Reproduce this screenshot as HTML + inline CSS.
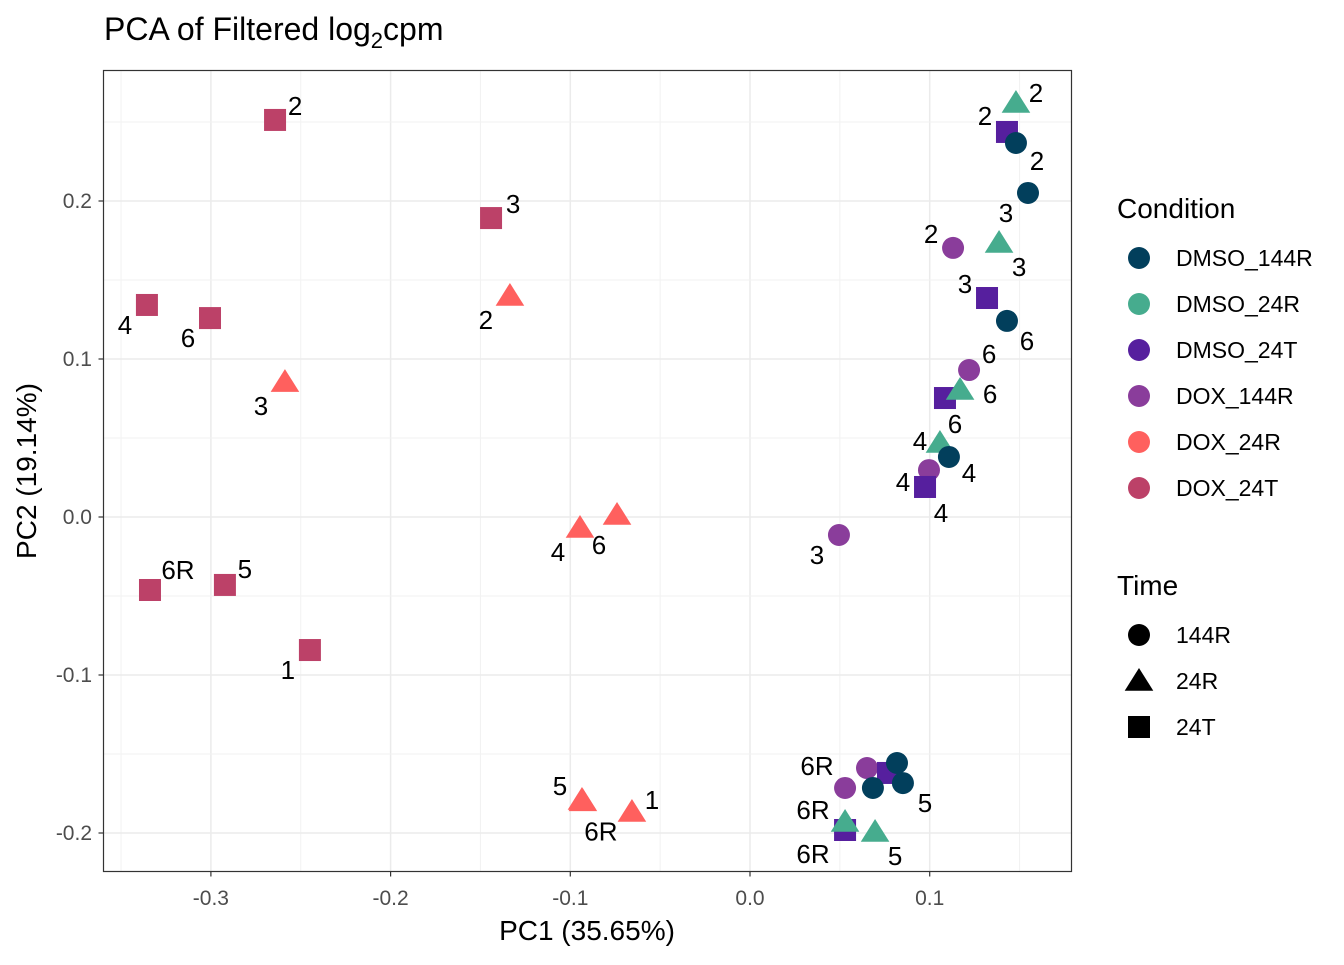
<!DOCTYPE html>
<html><head><meta charset="utf-8"><style>
html,body{margin:0;padding:0;background:#fff;}
svg text{font-family:"Liberation Sans",Arial,sans-serif;}
</style></head><body>
<svg id="chart" width="1344" height="960" xmlns="http://www.w3.org/2000/svg">
<text x="104" y="40" font-size="32" fill="#000">PCA of Filtered log<tspan font-size="22" dy="8">2</tspan><tspan dy="-8">cpm</tspan></text>
<g id="grid"></g>
<g id="points"></g>
<rect x="103.5" y="70.5" width="968" height="801" fill="none" stroke="#333" stroke-width="1.2"/>
<g id="axes"></g>
<text x="587" y="940" font-size="28" text-anchor="middle">PC1 (35.65%)</text>
<text transform="translate(36,471) rotate(-90)" font-size="28" text-anchor="middle">PC2 (19.14%)</text>
<g id="legend"></g>
</svg>
<script>
const conditions = ["DMSO_144R","DMSO_24R","DMSO_24T","DOX_144R","DOX_24R","DOX_24T"];
const times = ["144R","24R","24T"];
const xTicks = [-0.3,-0.2,-0.1,0.0,0.1];
const yTicks = [-0.2,-0.1,0.0,0.1,0.2];
const xTickLabels = ["-0.3","-0.2","-0.1","0.0","0.1"];
const yTickLabels = ["-0.2","-0.1","0.0","0.1","0.2"];
const pointCondition = [
 "DOX_24T","DOX_24T","DOX_24T","DOX_24T","DOX_24T","DOX_24T","DOX_24T",
 "DOX_24R","DOX_24R","DOX_24R","DOX_24R","DOX_24R","DOX_24R","DOX_24R",
 "DOX_144R","DOX_144R","DOX_144R","DOX_144R","DOX_144R","DOX_144R",
 "DMSO_24T","DMSO_24T","DMSO_24T","DMSO_24T","DMSO_24T","DMSO_24T",
 "DMSO_24R","DMSO_24R","DMSO_24R","DMSO_24R","DMSO_24R","DMSO_24R",
 "DMSO_144R","DMSO_144R","DMSO_144R","DMSO_144R","DMSO_144R","DMSO_144R","DMSO_144R"];
const pointTime = [
 "24T","24T","24T","24T","24T","24T","24T",
 "24R","24R","24R","24R","24R","24R","24R",
 "144R","144R","144R","144R","144R","144R",
 "24T","24T","24T","24T","24T","24T",
 "24R","24R","24R","24R","24R","24R",
 "144R","144R","144R","144R","144R","144R","144R"];
const pc1 = [
 -0.2643,-0.1441,-0.3356,-0.3005,-0.3339,-0.2922,-0.2449,
 -0.1336,-0.2588,-0.0946,-0.0740,-0.0935,-0.0657,-0.0930,
 0.1130,0.1219,0.0996,0.0495,0.0651,0.0529,
 0.1430,0.1319,0.1085,0.0974,0.0768,0.0529,
 0.1480,0.1386,0.1169,0.1057,0.0529,0.0696,
 0.1480,0.1547,0.1430,0.1107,0.0818,0.0684,0.0851];
const pc2 = [
 0.2513,0.1892,0.1342,0.1259,-0.0462,-0.0430,-0.0842,
 0.1399,0.0854,-0.0070,0.0013,-0.1791,-0.1867,-0.1800,
 0.1703,0.0930,0.0297,-0.0114,-0.1589,-0.1715,
 0.2437,0.1386,0.0753,0.0190,-0.1620,-0.1981,
 0.2620,0.1734,0.0804,0.0468,-0.1930,-0.1994,
 0.2367,0.2051,0.1241,0.0380,-0.1557,-0.1715,-0.1684];
const pointLabels = [
 "2","3","4","6","6R","5","1",
 "2","3","4","6","5","1","6R",
 "2","6","4","3","",
 "6R",
 "2","3","6","4","","6R",
 "2","3","6","4","6R","5",
 "2","3","6","4","","","5"];
// label offsets (styling, px)
const labelDx = [20,22,-22,-22,28,20,-22, -24,-24,-22,-18,-22,20,18, -22,20,-26,-22,0,-28, -22,-22,10,16,0,-32, 20,20,30,-20,-32,20, 21,-22,20,20,0,0,22];
const labelDy = [-14,-14,20,20,-20,-16,20, 24,24,24,30,-14,-12,30, -14,-16,12,20,0,-22, -16,-14,26,26,0,24, -10,24,4,-2,-12,24, 18,20,20,16,0,0,20];
const colors = {"DMSO_144R":"#023F5C","DMSO_24R":"#46AC8E","DMSO_24T":"#561F9E","DOX_144R":"#8A3D9B","DOX_24R":"#FF605E","DOX_24T":"#BC4168"};
const NS="http://www.w3.org/2000/svg";
const X0=103.5,X1=1071.5,Y0=70.5,Y1=871.5;
function sx(v){return 750+v*1797;}
function sy(v){return 517-v*1580;}
function mk(tag,attrs,parent){const e=document.createElementNS(NS,tag);for(const k in attrs)e.setAttribute(k,attrs[k]);parent.appendChild(e);return e;}
const grid=document.getElementById('grid');
mk('rect',{x:X0,y:Y0,width:X1-X0,height:Y1-Y0,fill:'#fff'},grid);
xTicks.forEach((t,i)=>{
 const mn=mk('line',{x1:sx(t+0.05),x2:sx(t+0.05),y1:Y0,y2:Y1,stroke:'#f2f2f2','stroke-width':1},grid);
 
 
 const l=mk('line',{x1:sx(t),x2:sx(t),y1:Y0,y2:Y1,stroke:'#ebebeb','stroke-width':1.5},grid);
 
 
});
mk('line',{x1:sx(-0.35),x2:sx(-0.35),y1:Y0,y2:Y1,stroke:'#f2f2f2','stroke-width':1},grid);
yTicks.forEach((t,i)=>{
 const l=mk('line',{x1:X0,x2:X1,y1:sy(t),y2:sy(t),stroke:'#ebebeb','stroke-width':1.5},grid);
 
 
 if(t<0.2){const mn=mk('line',{x1:X0,x2:X1,y1:sy(t+0.05),y2:sy(t+0.05),stroke:'#f2f2f2','stroke-width':1},grid);
 
 }
});
mk('line',{x1:X0,x2:X1,y1:sy(0.25),y2:sy(0.25),stroke:'#f2f2f2'},grid);
const axes=document.getElementById('axes');
xTicks.forEach((t,i)=>{
 mk('line',{x1:sx(t),x2:sx(t),y1:Y1,y2:Y1+5,stroke:'#333','stroke-width':1.2},axes);
 const tx=mk('text',{x:sx(t),y:905,'font-size':21,fill:'#4d4d4d','text-anchor':'middle'},axes);
 tx.textContent=xTickLabels[i];
 
 
});
yTicks.forEach((t,i)=>{
 mk('line',{x1:X0-5,x2:X0,y1:sy(t),y2:sy(t),stroke:'#333','stroke-width':1.2},axes);
 const tx=mk('text',{x:92,y:sy(t)+7,'font-size':21,fill:'#4d4d4d','text-anchor':'end'},axes);
 tx.textContent=yTickLabels[i];
 
 
});
function shape(time,cx,cy,fill,parent,s){
 s=s||1;
 if(time==="144R") return mk('circle',{cx:cx,cy:cy,r:11*s,fill:fill},parent);
 if(time==="24R"){const h=13*s;return mk('polygon',{points:`${cx},${cy-h} ${cx-h*1.1},${cy+h*0.75} ${cx+h*1.1},${cy+h*0.75}`,fill:fill},parent);}
 return mk('rect',{x:cx-11*s,y:cy-11*s,width:22*s,height:22*s,fill:fill},parent);
}
const pts=document.getElementById('points');
pc1.forEach((v,i)=>{
 const cx=sx(v),cy=sy(pc2[i]);
 const p=shape(pointTime[i],cx,cy,colors[pointCondition[i]],pts);
 
 
});
pc1.forEach((v,i)=>{
 if(!pointLabels[i])return;
 const t=mk('text',{x:sx(v)+labelDx[i],y:sy(pc2[i])+labelDy[i]+9,'font-size':26,'text-anchor':'middle',fill:'#000'},pts);
 t.textContent=pointLabels[i];
 
 
});
const lg=document.getElementById('legend');
let tt=mk('text',{x:1117,y:218,'font-size':28},lg);tt.textContent="Condition";


conditions.forEach((c,i)=>{
 const y=258+i*46;
 const s=shape("144R",1139,y,colors[c],lg);
 
 
 const t=mk('text',{x:1176,y:y+8,'font-size':23},lg);t.textContent=c;
 
 
});
tt=mk('text',{x:1117,y:595,'font-size':28},lg);tt.textContent="Time";


times.forEach((c,i)=>{
 const y=635+i*46;
 const s=shape(c,1139,y,'#000',lg);
 
 
 const t=mk('text',{x:1176,y:y+8,'font-size':23},lg);t.textContent=c;
 
 
});
</script>
</body></html>
